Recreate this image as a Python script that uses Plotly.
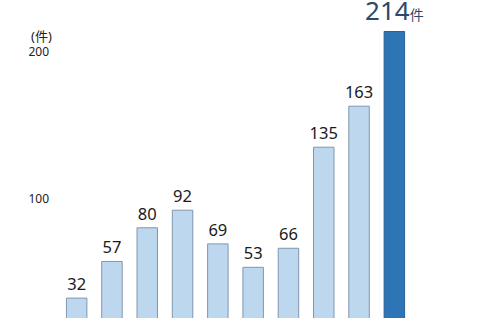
import plotly.graph_objects as go

categories = ["1", "2", "3", "4", "5", "6", "7", "8", "9", "10"]
values = [32, 57, 80, 92, 69, 53, 66, 135, 163, 214]
unit = "件"
ytick_vals = [100, 200]
ytick_text = ["100", "200"]

FONT = "Noto Sans, Noto Sans CJK JP"
n = len(values)
fill = ["#bdd7ee"] * (n - 1) + ["#2e75b6"]
line = ["#8096b0"] * (n - 1) + ["#2a5f95"]
texts = [str(v) for v in values[:-1]] + [f"{values[-1]}<span style='font-size:14px'>{unit}</span>"]
tsize = [16.5] * (n - 1) + [26]
tcolor = ["#1a1a1a"] * (n - 1) + ["#2c4a68"]

fig = go.Figure(go.Bar(
    x=categories, y=values,
    marker=dict(color=fill, line=dict(color=line, width=1)),
    text=texts, textposition="outside", cliponaxis=False, constraintext="none",
    textfont=dict(size=tsize, color=tcolor, family=FONT),
    width=0.58,
))

fig.update_layout(
    width=477, height=318,
    margin=dict(l=59, r=65, t=0, b=0),
    paper_bgcolor="white", plot_bgcolor="white",
    showlegend=False,
    xaxis=dict(visible=False, range=[-0.5, 9.5]),
    yaxis=dict(range=[18.4, 235.5], showgrid=False, zeroline=False, showline=False,
               tickvals=ytick_vals, ticktext=ytick_text, ticks="", ticklabelstandoff=9,
               tickfont=dict(size=12, color="#222222", family=FONT)),
    annotations=[dict(text="(" + unit + ")", xref="paper", yref="paper", x=-0.015, y=0.887,
                      xanchor="right", yanchor="middle", showarrow=False,
                      font=dict(size=13, color="#222222", family=FONT))],
)

fig.write_html("out.html")
